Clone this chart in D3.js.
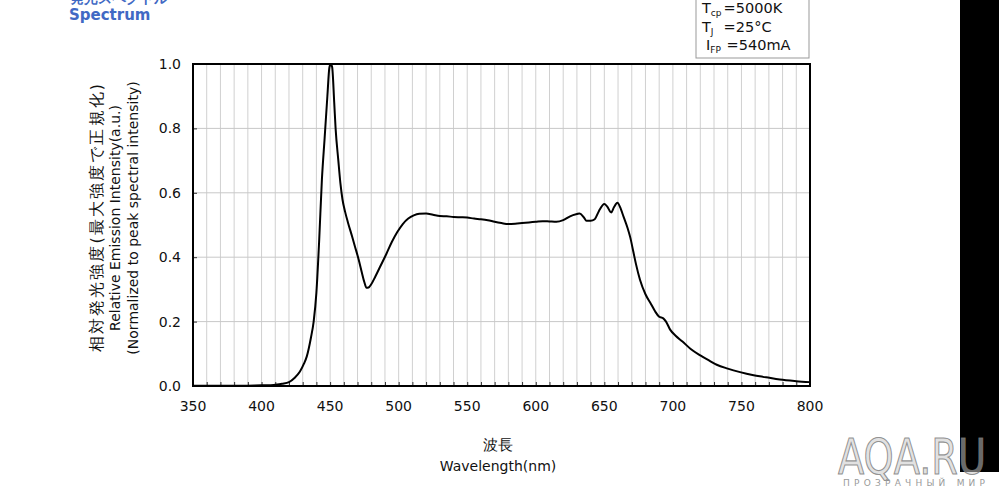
<!DOCTYPE html>
<html>
<head>
<meta charset="utf-8">
<script src="https://cdn.jsdelivr.net/npm/d3@7"></script>
<style>
html,body{margin:0;padding:0;background:#fff;}
svg{display:block;}
text{font-family:"DejaVu Sans",Verdana,sans-serif;}
</style>
</head>
<body>
<svg id="chart" width="999" height="493"></svg>
<script>
// ---- data ----
const wavelengths = [350,360,370,380,390,400,405,410,415,420,424,428,431,433,436,438,440,442,444,446,448,449.5,450.5,451.5,453,454,456,457.5,459,461,463,466,468,471,473,475,476.5,478,480,483,487,491,495,499,503,507,511,515,520,525,530,535,540,545,550,555,560,565,570,575,580,585,590,595,600,605,610,615,620,625,630,632,635,637,640,643,646,650,652,655,657,659.5,662,664,667,669,671,673,676,680,684,687,690,693,695,698,702,707,713,720,726,732,740,749,758,768,778,790,800];
const intensity = [0.001,0.001,0.001,0.001,0.001,0.002,0.002,0.004,0.007,0.012,0.025,0.045,0.07,0.092,0.15,0.2,0.29,0.45,0.64,0.77,0.9,0.99,1.0,0.99,0.88,0.8,0.7,0.63,0.58,0.54,0.508,0.465,0.435,0.39,0.355,0.322,0.305,0.306,0.316,0.34,0.375,0.41,0.447,0.478,0.503,0.52,0.53,0.535,0.536,0.532,0.528,0.527,0.525,0.524,0.523,0.52,0.518,0.515,0.51,0.506,0.503,0.504,0.506,0.508,0.51,0.512,0.511,0.51,0.515,0.527,0.534,0.536,0.524,0.513,0.513,0.518,0.543,0.565,0.558,0.539,0.555,0.569,0.55,0.526,0.49,0.46,0.42,0.38,0.33,0.285,0.255,0.232,0.215,0.21,0.2,0.175,0.156,0.138,0.115,0.095,0.08,0.066,0.054,0.043,0.034,0.027,0.02,0.015,0.012];
const xTickLabels = [350,400,450,500,550,600,650,700,750,800];
const yTickLabels = [0.0,0.2,0.4,0.6,0.8,1.0];
const yAxisTitle = ["相対発光強度(最大強度で正規化)","Relative Emission Intensity(a.u.)","(Normalized to peak spectral intensity)"];
const xAxisTitle = ["波長","Wavelength(nm)"];
const conditions = [["T","cp"," =5000K"],["T","J"," =25°C"],["I","FP"," =540mA"]];

// ---- layout ----
const svg = d3.select("#chart");
const L=193, R=810, T=64, B=386;
const x = d3.scaleLinear().domain([350,800]).range([L,R]);
const y = d3.scaleLinear().domain([0,1]).range([B,T]);

// black strip on right
svg.append("rect").attr("x",960).attr("y",0).attr("width",39).attr("height",472).attr("fill","#000");

// title
svg.append("text").attr("x",70).attr("y",3).attr("font-size",14).attr("font-weight","bold")
  .attr("fill","#4169c4").text("発光スペクトル");
svg.append("text").attr("x",69).attr("y",20).attr("font-size",15).attr("font-weight","bold")
  .attr("fill","#4169c4").text("Spectrum");

// grid
const g = svg.append("g");
g.selectAll(".vg").data(d3.range(360,800,10)).enter().append("line")
  .attr("x1",d=>x(d)).attr("x2",d=>x(d)).attr("y1",T).attr("y2",B)
  .attr("stroke","#d0d0d0").attr("stroke-width",1);
g.selectAll(".hg").data([0.2,0.4,0.6,0.8]).enter().append("line")
  .attr("x1",L).attr("x2",R).attr("y1",d=>y(d)).attr("y2",d=>y(d))
  .attr("stroke","#c8c8c8").attr("stroke-width",1);

// axes (ticks inward)
const xAxis = d3.axisBottom(x).tickValues(d3.range(350,801,10)).tickSize(-4).tickFormat("");
const xa = svg.append("g").attr("transform",`translate(0,${B})`).call(xAxis);
xa.select(".domain").remove();
xa.selectAll("line").attr("stroke","#333");
const yAxis = d3.axisLeft(y).tickValues(yTickLabels).tickSize(-4).tickFormat("");
const ya = svg.append("g").attr("transform",`translate(${L},0)`).call(yAxis);
ya.select(".domain").remove();
ya.selectAll("line").attr("stroke","#333");

// tick labels
svg.selectAll(".xl").data(xTickLabels).enter().append("text")
  .attr("x",d=>x(d)).attr("y",411).attr("text-anchor","middle").attr("font-size",14).attr("fill","#111")
  .text(d=>d);
svg.selectAll(".yl").data(yTickLabels).enter().append("text")
  .attr("x",181).attr("y",d=>y(d)+5).attr("text-anchor","end").attr("font-size",14).attr("fill","#111")
  .text(d=>d.toFixed(1));

// frame
svg.append("rect").attr("x",L).attr("y",T).attr("width",R-L).attr("height",B-T)
  .attr("fill","none").attr("stroke","#000").attr("stroke-width",2);

// curve
const data = wavelengths.map((w,i)=>({w, v:intensity[i]}));
svg.append("path").datum(data)
  .attr("d", d3.line().x(d=>x(d.w)).y(d=>y(d.v)).curve(d3.curveMonotoneX))
  .attr("fill","none").attr("stroke","#000").attr("stroke-width",2).attr("stroke-linejoin","round");

// y axis title
const yt = svg.append("g").attr("transform","translate(0,218)");
[97,115,133].forEach((px,i)=>{
  const t = yt.append("text").attr("transform",`translate(${px+5},0) rotate(-90)`)
    .attr("text-anchor","middle").attr("font-size",i===0?16:14).attr("fill","#111")
    .attr("font-family", i===0 ? "'Noto Sans CJK JP','DejaVu Sans',sans-serif" : "'DejaVu Sans',sans-serif")
    .text(yAxisTitle[i]);
  if(i===0) t.attr("textLength",268).attr("lengthAdjust","spacing");
});

// x axis title
svg.append("text").attr("x",498).attr("y",450).attr("text-anchor","middle").attr("font-size",15)
  .attr("font-family","'Noto Sans CJK JP',sans-serif").attr("fill","#111").text(xAxisTitle[0]);
svg.append("text").attr("x",498).attr("y",471).attr("text-anchor","middle").attr("font-size",14)
  .attr("fill","#111").text(xAxisTitle[1]);

// conditions box
svg.append("rect").attr("x",696).attr("y",-5).attr("width",113).attr("height",63)
  .attr("fill","#fff").attr("stroke","#999").attr("stroke-width",1);
const condY = [13,32,50];
const condX = [702,702,706];
conditions.forEach((c,i)=>{
  const t = svg.append("text").attr("x",condX[i]).attr("y",condY[i]).attr("font-size",14.5).attr("fill","#111")
    .attr("font-family","'DejaVu Sans',sans-serif");
  t.append("tspan").text(c[0]);
  t.append("tspan").attr("font-size",9).attr("dy",3).text(c[1]);
  t.append("tspan").attr("dy",-3).attr("x", i===2 ? 722 : 719).text(c[2]);
});

// watermark
svg.append("text").attr("x",838).attr("y",474).attr("font-size",50).attr("font-family","'DejaVu Sans',sans-serif")
  .attr("fill","rgba(200,200,200,0.55)").attr("stroke","rgba(120,120,120,0.8)").attr("stroke-width",1.2)
  .attr("textLength",148).attr("lengthAdjust","spacingAndGlyphs").text("AQA.RU");
svg.append("text").attr("x",843).attr("y",486).attr("font-size",9).attr("font-family","'DejaVu Sans',sans-serif")
  .attr("fill","#9a9a9a").attr("textLength",142).attr("lengthAdjust","spacing").text("ПРОЗРАЧНЫЙ  МИР");
</script>
</body>
</html>
